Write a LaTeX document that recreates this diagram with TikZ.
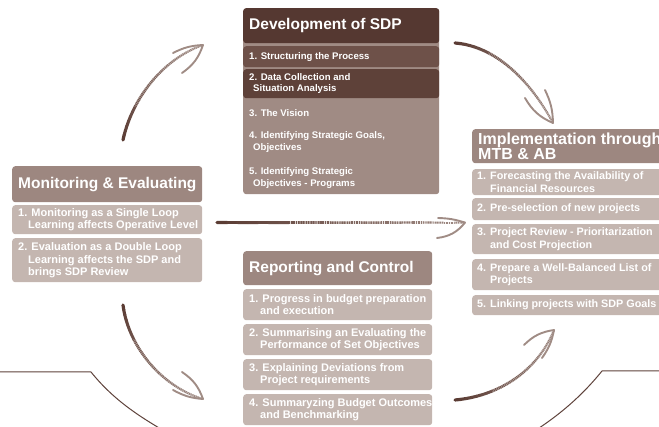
\documentclass[tikz,border=0pt]{standalone}
\usepackage{fontspec}
\setmainfont{Liberation Sans}
\definecolor{devhead}{HTML}{553831}
\definecolor{devone}{HTML}{6E5149}
\definecolor{devtwo}{HTML}{5E4139}
\definecolor{devbody}{HTML}{A08B84}
\definecolor{headcol}{HTML}{9D8780}
\definecolor{itemcol}{HTML}{C4B6B0}
\definecolor{arrowdark}{HTML}{5B3C34}
\definecolor{arrowlight}{HTML}{C9BBB5}
\definecolor{barbcol}{HTML}{A08C85}
\definecolor{linecol}{HTML}{5E423B}
\newcommand\gradarrow[5]{%
  \path (#2) .. controls (#3) and (#4) .. (#5)
    \foreach \k in {0,...,24}{ coordinate[pos=\k/24] (#1-\k) };
  \foreach \k in {0,...,23}{%
    \pgfmathtruncatemacro\kn{\k+1}%
    \pgfmathtruncatemacro\pc{100-2.6*\k}%
    \pgfmathtruncatemacro\pb{85-3*\k}%
    \pgfmathsetmacro\lw{3.2-0.05*\k}%
    \ifnum\k<7
      \draw[line width=\lw pt, color=arrowdark!\pc!arrowlight, line cap=round] (#1-\k) -- (#1-\kn);
    \else
      \draw[line width=\lw pt, color=arrowlight!\pb!white] (#1-\k) -- (#1-\kn);
      \draw[line width=\lw pt, color=arrowdark!\pc!arrowlight, dash pattern=on 1.1pt off 0.6pt] (#1-\k) -- (#1-\kn);
    \fi
  }}
\begin{document}
\begin{tikzpicture}[x=1pt,y=-1pt,
  box/.style={draw=none, rounded corners=3pt, inner sep=0pt, anchor=north west},
  ttl/.style={text=white, font=\bfseries\fontsize{15.5}{17}\selectfont, anchor=west, inner sep=0pt, align=left},
  itm/.style={text=white, font=\bfseries\fontsize{11}{12.5}\selectfont, anchor=west, inner sep=0pt, align=left},
  iitm/.style={itm, font=\bfseries\fontsize{10.8}{12.5}\selectfont},
  ditm/.style={itm, font=\bfseries\fontsize{9.6}{11.5}\selectfont},
  barb/.style={line width=1.9pt, color=barbcol, line cap=round},
  deco/.style={line width=1pt, color=linecol}]
\useasboundingbox (0,0) rectangle (659,427);

% ---------- Development of SDP ----------
\node[box, fill=devbody, minimum width=196pt, minimum height=186pt] (devB) at (243,8) {};
\node[box, fill=devhead, minimum width=196pt, minimum height=35pt] (devH) at (243,8) {};
\node[box, fill=devone, minimum width=196pt, minimum height=21pt] (dev1) at (243,46) {};
\node[box, fill=devtwo, minimum width=196pt, minimum height=29pt] (dev2) at (243,69) {};
\node[ttl] (devHt) at ([xshift=6pt]devH.west) {Development of SDP};
\node[ditm] (dev1t) at ([xshift=6pt]dev1.west) {1. Structuring the Process};
\node[ditm] (dev2t) at ([xshift=6pt]dev2.west) {2. Data Collection and\\\hspace*{4pt}Situation Analysis};
\node[ditm] (dev3t) at (249,113) {3. The Vision};
\node[ditm] (dev4t) at (249,142) {4. Identifying Strategic Goals,\\\hspace*{4pt}Objectives};
\node[ditm] (dev5t) at (249,178) {5. Identifying Strategic\\\hspace*{4pt}Objectives - Programs};

% ---------- Monitoring & Evaluating ----------
\node[box, fill=headcol, minimum width=190pt, minimum height=36pt] (monH) at (12,166) {};
\node[box, fill=itemcol, minimum width=190pt, minimum height=29pt] (mon1) at (12,205) {};
\node[box, fill=itemcol, minimum width=190pt, minimum height=44pt] (mon2) at (12,238) {};
\node[ttl] (monHt) at ([xshift=6pt]monH.west) {Monitoring \& Evaluating};
\node[itm] (mon1t) at ([xshift=6pt]mon1.west) {1. Monitoring as a Single Loop\\\hspace*{10pt}Learning affects Operative Level};
\node[itm] (mon2t) at ([xshift=6pt]mon2.west) {2. Evaluation as a Double Loop\\\hspace*{10pt}Learning affects the SDP and\\\hspace*{10pt}brings SDP Review};

% ---------- Implementation ----------
\node[box, fill=headcol, minimum width=200pt, minimum height=34pt] (impH) at (472,129) {};
\node[box, fill=itemcol, minimum width=200pt, minimum height=26pt] (imp1) at (472,169) {};
\node[box, fill=itemcol, minimum width=200pt, minimum height=22pt] (imp2) at (472,198) {};
\node[box, fill=itemcol, minimum width=200pt, minimum height=30pt] (imp3) at (472,224) {};
\node[box, fill=itemcol, minimum width=200pt, minimum height=31pt] (imp4) at (472,259) {};
\node[box, fill=itemcol, minimum width=200pt, minimum height=20pt] (imp5) at (472,295) {};
\node[ttl, font=\bfseries\fontsize{16}{15}\selectfont] (impHt) at ([xshift=6pt]impH.west) {Implementation through\\MTB \& AB};
\node[iitm] (imp1t) at ([xshift=5pt]imp1.west) {1. Forecasting the Availability of\\\hspace*{13pt}Financial Resources};
\node[iitm] (imp2t) at ([xshift=5pt]imp2.west) {2. Pre-selection of new projects};
\node[iitm] (imp3t) at ([xshift=5pt]imp3.west) {3. Project Review - Prioritarization\\\hspace*{13pt}and Cost Projection};
\node[iitm] (imp4t) at ([xshift=5pt]imp4.west) {4. Prepare a Well-Balanced List of\\\hspace*{13pt}Projects};
\node[iitm] (imp5t) at ([xshift=5pt]imp5.west) {5. Linking projects with SDP Goals};

% ---------- Reporting and Control ----------
\node[box, fill=headcol, minimum width=189pt, minimum height=34pt] (repH) at (243,251) {};
\node[box, fill=itemcol, minimum width=189pt, minimum height=31pt] (rep1) at (243,289) {};
\node[box, fill=itemcol, minimum width=189pt, minimum height=31pt] (rep2) at (243,324) {};
\node[box, fill=itemcol, minimum width=189pt, minimum height=31pt] (rep3) at (243,359) {};
\node[box, fill=itemcol, minimum width=189pt, minimum height=31pt] (rep4) at (243,394) {};
\node[ttl] (repHt) at ([xshift=6pt]repH.west) {Reporting and Control};
\node[itm] (rep1t) at ([xshift=6pt]rep1.west) {1. Progress in budget preparation\\\hspace*{11pt}and execution};
\node[itm] (rep2t) at ([xshift=6pt]rep2.west) {2. Summarising an Evaluating the\\\hspace*{11pt}Performance of Set Objectives};
\node[itm] (rep3t) at ([xshift=6pt]rep3.west) {3. Explaining Deviations from\\\hspace*{11pt}Project requirements};
\node[itm] (rep4t) at ([xshift=6pt]rep4.west) {4. Summaryzing Budget Outcomes\\\hspace*{11pt}and Benchmarking};

% ---------- decorative lines ----------
\coordinate (dlA) at (-5,372);
\coordinate (dlB) at (91,372);
\coordinate (dlC) at (166,432);
\coordinate (drA) at (665,371);
\coordinate (drB) at (602,371);
\coordinate (drC) at (533,432);
\draw[deco] (dlA) -- (dlB) .. controls (112,398) and (135,414) .. (dlC);
\draw[deco] (drA) -- (drB) .. controls (581,397) and (558,416) .. (drC);

% ---------- arrows ----------
% Monitoring -> Development
\coordinate (a1s) at (123,140);
\coordinate (a1e) at (203,45);
\coordinate (a1b1) at (173,53);
\coordinate (a1b2) at (182,73);
\gradarrow{a1}{a1s}{131,102}{160,60}{a1e}
\draw[barb] (a1e) to[bend right=12] (a1b1);
\draw[barb] (a1e) to[bend left=18] (a1b2);

% Development -> Implementation
\coordinate (a2s) at (455,43);
\coordinate (a2e) at (553,123);
\coordinate (a2b1) at (525,98);
\coordinate (a2b2) at (545,90);
\gradarrow{a2}{a2s}{495,46}{530,80}{a2e}
\draw[barb] (a2e) to[bend left=18] (a2b1);
\draw[barb] (a2e) to[bend right=12] (a2b2);

% Monitoring -> Implementation
\coordinate (a3s) at (217,222.6);
\coordinate (a3e) at (465,222.6);
\coordinate (a3b1) at (438,218);
\coordinate (a3b2) at (437,238);
\gradarrow{a3}{a3s}{300,222.6}{380,222.6}{a3e}
\draw[barb] (a3e) to[bend right=8] (a3b1);
\draw[barb] (a3e) to[bend left=22] (a3b2);

% Monitoring -> Reporting
\coordinate (a4s) at (123,305);
\coordinate (a4e) at (203,399);
\coordinate (a4b1) at (173,390);
\coordinate (a4b2) at (182,372);
\gradarrow{a4}{a4s}{128,345}{160,386}{a4e}
\draw[barb] (a4e) to[bend left=12] (a4b1);
\draw[barb] (a4e) to[bend right=18] (a4b2);

% Reporting -> Implementation
\coordinate (a5s) at (455,400);
\coordinate (a5e) at (554,330);
\coordinate (a5b1) at (524,345);
\coordinate (a5b2) at (542,358);
\gradarrow{a5}{a5s}{500,396}{538,370}{a5e}
\draw[barb] (a5e) to[bend right=18] (a5b1);
\draw[barb] (a5e) to[bend left=12] (a5b2);
\end{tikzpicture}
\end{document}
